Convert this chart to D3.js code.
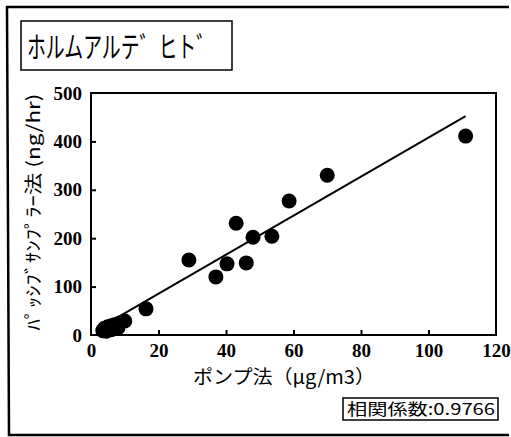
<!DOCTYPE html>
<html>
<head>
<meta charset="utf-8">
<script src="https://cdn.jsdelivr.net/npm/d3@7"></script>
<style>
  body { margin: 0; background: #fff; }
  svg { display: block; }
</style>
</head>
<body>
<div id="chart"></div>
<script>
// values
var pumpX = [3.5, 4, 4.5, 5, 6, 6, 7, 8, 8.5, 10, 16.3, 29, 37, 40.3, 43, 46, 48, 53.6, 58.7, 70, 111];
var passiveY = [9, 14, 8, 17, 11, 19, 21, 15, 25, 29, 54, 155, 120, 147, 231, 149, 202, 204, 277, 330, 411];
// fitted line end points (as drawn)
var fitX = [8, 111];
var fitY = [37, 452];
var xTicks = [0, 20, 40, 60, 80, 100, 120];
var yTicks = [0, 100, 200, 300, 400, 500];
var titleText = "ホルムアルテ゛ヒト゛";
var xLabel = "ポンプ法（μg/m3）";
var yLabel = "ﾊﾟｯｼﾌﾞｻﾝﾌﾟﾗｰ法 (ng/hr)";
var corrText = "相関係数:0.9766";

var width = 511, height = 437;
var plotL = 91, plotR = 496, plotT = 93, plotB = 335;
var serif = "'Liberation Serif', 'DejaVu Serif', serif";
var jp = "'Noto Sans CJK JP', sans-serif";

var svg = d3.select("#chart").append("svg")
    .attr("width", width)
    .attr("height", height);

// outer frame (right side is cut off in the picture)
svg.append("path")
    .attr("d", "M509,7 L7,7 L9,435 L509,435")
    .attr("fill", "none")
    .attr("stroke", "#000")
    .attr("stroke-width", 2.5);

// title box
svg.append("rect")
    .attr("x", 21).attr("y", 21)
    .attr("width", 211).attr("height", 49)
    .attr("fill", "none").attr("stroke", "#000").attr("stroke-width", 1.5);
svg.append("text")
    .attr("x", 27).attr("y", 58)
    .attr("textLength", 188)
    .attr("lengthAdjust", "spacingAndGlyphs")
    .style("font-family", jp)
    .style("font-size", "29px")
    .text(titleText);

var x = d3.scaleLinear().domain([0, 120]).range([plotL, plotR]);
var y = d3.scaleLinear().domain([0, 500]).range([plotB, plotT]);

// plot frame
svg.append("rect")
    .attr("x", plotL).attr("y", plotT)
    .attr("width", plotR - plotL).attr("height", plotB - plotT)
    .attr("fill", "none").attr("stroke", "#000").attr("stroke-width", 2);

// axes with inward ticks
var xAxis = svg.append("g")
    .attr("transform", "translate(0," + plotB + ")")
    .call(d3.axisBottom(x).tickValues(xTicks).tickSize(-5).tickPadding(11).tickFormat(d3.format("d")));
var yAxis = svg.append("g")
    .attr("transform", "translate(" + plotL + ",0)")
    .call(d3.axisLeft(y).tickValues(yTicks).tickSize(-5).tickPadding(9).tickFormat(d3.format("d")));

[xAxis, yAxis].forEach(function (g) {
    g.select(".domain").remove();
    g.selectAll(".tick line").attr("stroke", "#000").attr("stroke-width", 2);
    g.selectAll(".tick text")
        .attr("fill", "#000")
        .style("font-family", serif)
        .style("font-size", "19px")
        .style("font-weight", "bold");
});
xAxis.selectAll(".tick text").attr("dy", "0.6em");
// end ticks sit on the frame
xAxis.selectAll(".tick line").filter(function (d) { return d === 0 || d === 120; }).remove();
yAxis.selectAll(".tick line").filter(function (d) { return d === 0 || d === 500; }).remove();

// fit line
svg.append("line")
    .attr("x1", x(fitX[0])).attr("y1", y(fitY[0]))
    .attr("x2", x(fitX[1])).attr("y2", y(fitY[1]))
    .attr("stroke", "#000").attr("stroke-width", 2);

// points
svg.append("g").selectAll("circle")
    .data(pumpX.map(function (d, i) { return [d, passiveY[i]]; }))
    .join("circle")
    .attr("cx", function (d) { return x(d[0]); })
    .attr("cy", function (d) { return y(d[1]); })
    .attr("r", 7.5)
    .attr("fill", "#000");

// axis titles
svg.append("text")
    .attr("x", 284).attr("y", 384)
    .attr("text-anchor", "middle")
    .attr("textLength", 182)
    .attr("lengthAdjust", "spacingAndGlyphs")
    .style("font-family", jp)
    .style("font-size", "19px")
    .text(xLabel);

svg.append("text")
    .attr("transform", "translate(40,212) rotate(-90)")
    .attr("text-anchor", "middle")
    .attr("textLength", 237)
    .attr("lengthAdjust", "spacingAndGlyphs")
    .style("font-family", jp)
    .style("font-size", "18px")
    .text(yLabel);

// correlation box
svg.append("rect")
    .attr("x", 343).attr("y", 398)
    .attr("width", 155).attr("height", 22)
    .attr("fill", "none").attr("stroke", "#000").attr("stroke-width", 1.5);
svg.append("text")
    .attr("x", 347).attr("y", 415)
    .attr("textLength", 148)
    .attr("lengthAdjust", "spacingAndGlyphs")
    .style("font-family", jp)
    .style("font-size", "16px")
    .text(corrText);
</script>
</body>
</html>
